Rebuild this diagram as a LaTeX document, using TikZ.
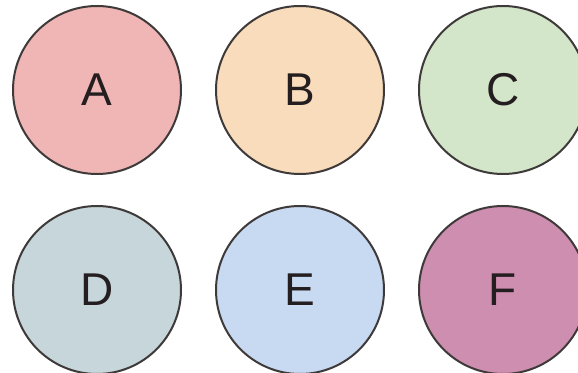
\documentclass[tikz,border=0pt]{standalone}
\usepackage{fontspec}
\setmainfont{Liberation Sans}
\usepackage{tikz}
\usetikzlibrary{positioning}

\definecolor{pinkA}{HTML}{F0B6B5}
\definecolor{peachB}{HTML}{F9DCBB}
\definecolor{greenC}{HTML}{D4E6CA}
\definecolor{greyD}{HTML}{C6D6DA}
\definecolor{blueE}{HTML}{C8DAF2}
\definecolor{mauveF}{HTML}{CE8EB0}
\definecolor{rim}{HTML}{3F3A3A}
\definecolor{ink}{HTML}{241E20}

\begin{document}
\begin{tikzpicture}
 [letter node/.style={circle,draw=rim,line width=2pt,inner sep=0pt,minimum size=168pt,text=ink,font=\fontsize{46}{46}\selectfont},
  row gap/.style={node distance=200pt},
  col gap/.style={node distance=203pt}]

\fill[white] (0,0) rectangle (578pt,372pt);
\useasboundingbox (0,0) rectangle (578pt,372pt);

\node[letter node,fill=pinkA] (a) at (97pt,282pt) {A};
   \node[letter node,fill=peachB] (b) [col gap, right of=a] {B};
\node[letter node,fill=greenC] (c) [col gap, right of=b] {C};

 \node[letter node,fill=greyD] (d) [row gap, below of=a] {D};
 \node[letter node,fill=blueE] (e) [col gap, right of=d] {E};
  \node[letter node,fill=mauveF] (f) [col gap, right of=e] {F};

\end{tikzpicture}
\end{document}
